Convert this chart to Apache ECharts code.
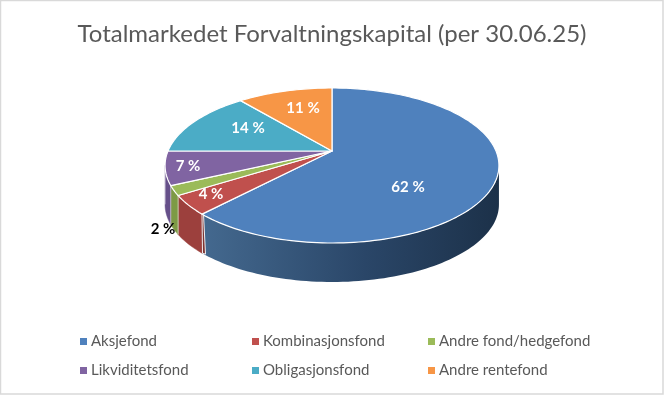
<!DOCTYPE html>
<html>
<head>
<meta charset="utf-8">
<style>
  html, body { margin: 0; padding: 0; background: #fff; }
  #chart { width: 664px; height: 395px; }
</style>
<script src="https://cdn.jsdelivr.net/npm/echarts@6/dist/echarts.min.js"></script>
</head>
<body>
<div id="chart"></div>
<script>
// data
const categories = ['Aksjefond', 'Kombinasjonsfond', 'Andre fond/hedgefond', 'Likviditetsfond', 'Obligasjonsfond', 'Andre rentefond'];
const shares = [62, 4, 2, 7, 14, 11];
const titleText = 'Totalmarkedet Forvaltningskapital (per 30.06.25)';

const topColors = ['#4f81bd', '#c0504d', '#9bbb59', '#8064a2', '#4bacc6', '#f79646'];
const sideColors = ['#2f4f75', '#9c403d', '#7d9a45', '#66508a', '#3c8a9e', '#c67838'];
const labelColors = ['#fff', '#fff', '#000', '#fff', '#fff', '#fff'];
// label offset from the pie's centre point
const labelOffsets = [[76, 36], [-121, 43], [-169, 78], [-144, 15], [-84, -23], [-29, -43]];

// tilted disc seen in perspective: the centre point sits above the middle of the ellipse
const centerX = 332;
const centerY = 151;
const spreadX = 164;
const spreadY = 74.8;
const tilt = 0.187;
const depth = 39;
// the rim is only visible in front between these two angles (degrees, clockwise from 12)
const wallFrom = 100.7;
const wallTo = 259.3;

function project(deg) {
  const t = deg * Math.PI / 180;
  const px = Math.sin(t);
  const py = -Math.cos(t);
  const w = 1 - tilt * py;
  return [centerX + spreadX * px / w, centerY + spreadY * py / w];
}

function arc(from, to) {
  const pts = [];
  const steps = Math.max(2, Math.ceil((to - from) / 1.5));
  for (let i = 0; i <= steps; i++) {
    pts.push(project(from + (to - from) * i / steps));
  }
  return pts;
}

function renderSlice(idx) {
  return function (params, api) {
    const total = shares.reduce((a, b) => a + b, 0);
    const before = shares.slice(0, idx).reduce((a, b) => a + b, 0);
    const start = before / total * 360;
    const end = start + api.value(0) / total * 360;
    const children = [];

    const wa = Math.max(start, wallFrom);
    const wb = Math.min(end, wallTo);
    if (wb > wa) {
      const rim = arc(wa, wb);
      const low = rim.map((p) => [p[0], p[1] + depth]).reverse();
      children.push({
        type: 'polygon',
        z2: 1,
        shape: { points: rim.concat(low) },
        style: {
          fill: idx === 0
            ? new echarts.graphic.LinearGradient(0, 0, 1, 0, [
              { offset: 0, color: '#44698f' },
              { offset: 0.55, color: '#2a4668' },
              { offset: 1, color: '#1c3149' },
            ])
            : sideColors[idx],
          stroke: idx === 0 ? null : sideColors[idx],
          lineWidth: 0.5,
        },
      });
      const a = project(wb);
      if (idx === 0) {
        // cut face between the blue and the red wall: dark sliver with white edges
        const b = [a[0] + 3, a[1] + depth + 1];
        children.push({
          type: 'polygon',
          z2: 2,
          shape: { points: [a, [a[0] + 1.5, a[1]], [b[0] + 0.5, b[1]], [b[0] - 2.5, b[1] - 1]] },
          style: { fill: '#7d3533', stroke: '#fff', lineWidth: 0.9 },
        });
      } else {
        children.push({
          type: 'line',
          z2: 2,
          shape: { x1: a[0], y1: a[1], x2: a[0], y2: a[1] + depth },
          style: { stroke: '#fff', lineWidth: 0.8, opacity: 0.7 },
        });
      }
    }

    children.push({
      type: 'polygon',
      z2: 3,
      shape: { points: [[centerX, centerY]].concat(arc(start, end)) },
      style: { fill: topColors[idx], stroke: '#fff', lineWidth: 1.2, lineJoin: 'round' },
    });
    children.push({
      type: 'text',
      z2: 4,
      x: centerX + labelOffsets[idx][0],
      y: centerY + labelOffsets[idx][1],
      style: {
        text: api.value(0) + ' %',
        fill: labelColors[idx],
        font: 'bold 15px Lato',
        align: 'center',
        verticalAlign: 'middle',
      },
    });
    return { type: 'group', children };
  };
}

function legendColumn(left, names) {
  return {
    orient: 'vertical',
    left,
    top: 329,
    itemWidth: 7,
    itemHeight: 7,
    itemGap: 14,
    icon: 'rect',
    selectedMode: false,
    data: names,
    textStyle: { color: '#595959', fontFamily: 'Lato', fontSize: 15, padding: [0, 0, 0, -1] },
  };
}

const chart = echarts.init(document.getElementById('chart'), null, { renderer: 'canvas' });
chart.setOption({
  animation: false,
  backgroundColor: '#fff',
  title: {
    text: titleText,
    left: 'center',
    top: 17,
    textStyle: { color: '#595959', fontFamily: 'Lato', fontSize: 24, fontWeight: 'normal' },
  },
  legend: [
    legendColumn(75, [categories[0], categories[3]]),
    legendColumn(247, [categories[1], categories[4]]),
    legendColumn(423, [categories[2], categories[5]]),
  ],
  graphic: [{
    type: 'rect',
    silent: true,
    shape: { x: 0.5, y: 0.5, width: 662.5, height: 393.5 },
    style: { fill: 'none', stroke: '#d9d9d9', lineWidth: 1.5 },
  }],
  series: categories.map((name, i) => ({
    type: 'custom',
    name,
    coordinateSystem: 'none',
    itemStyle: { color: topColors[i] },
    renderItem: renderSlice(i),
    data: [[shares[i]]],
  })),
});
</script>
</body>
</html>
